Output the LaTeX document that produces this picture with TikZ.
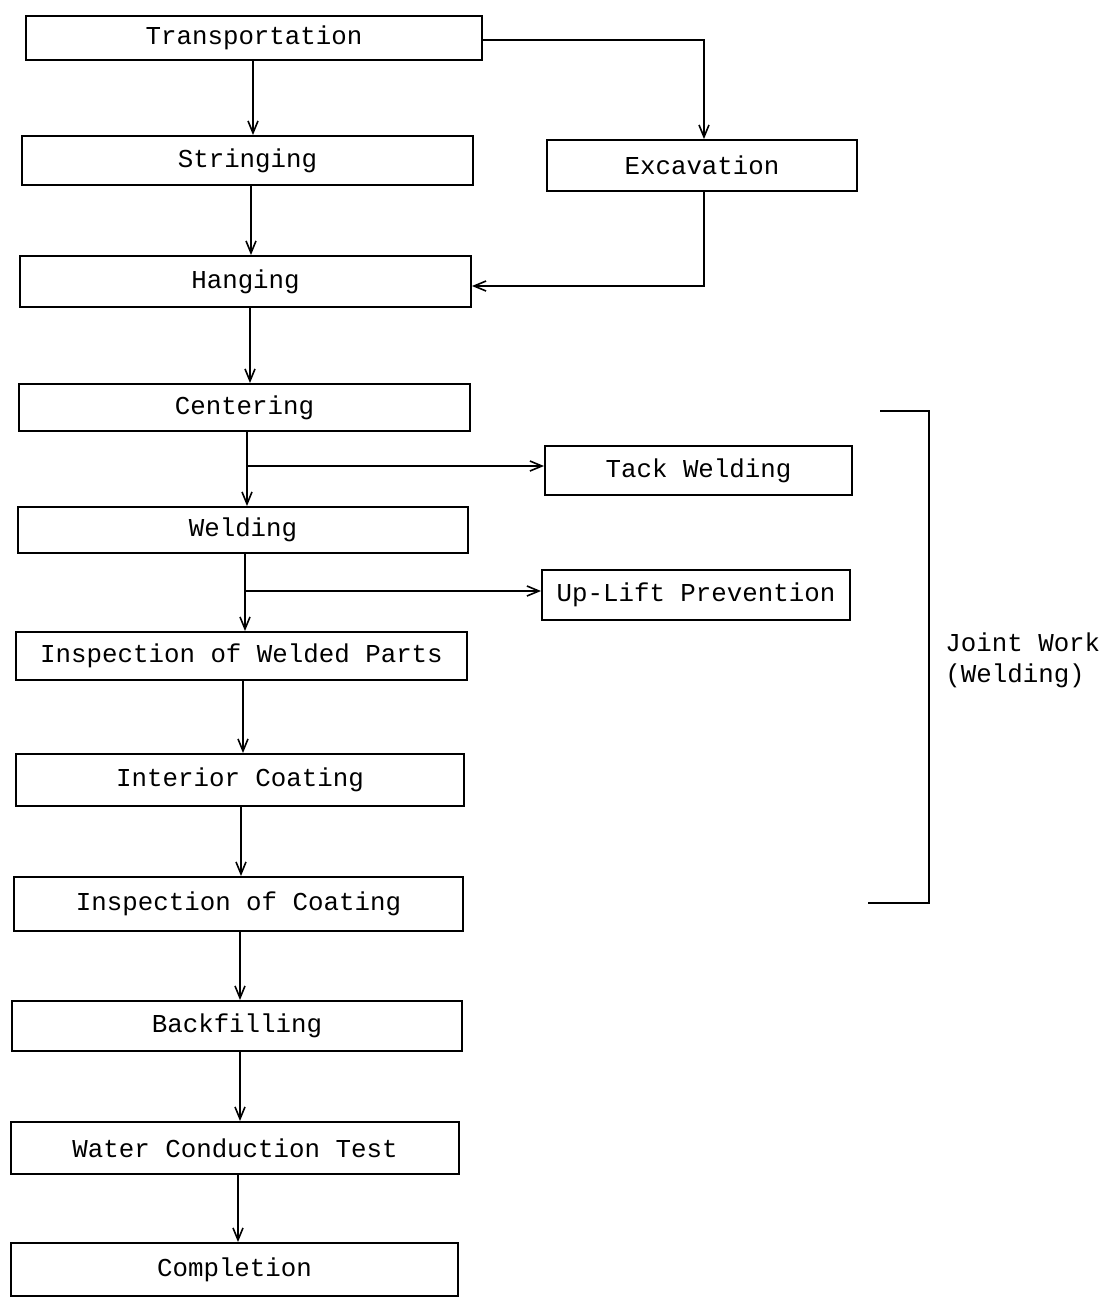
\documentclass[tikz,border=0pt]{standalone}
\usepackage{fontspec}
\setmonofont{Liberation Mono}
\usetikzlibrary{arrows.meta}
\begin{document}
\begin{tikzpicture}[x=0.5pt,y=-0.5pt,
  stepbox/.style={draw,line width=1pt,inner sep=0pt,font=\ttfamily\fontsize{12.9pt}{15pt}\selectfont},
  arr/.style={line width=1pt,-{Straight Barb[length=6pt,width=5pt,line width=0.8pt]}},
  ln/.style={line width=1pt}]
\useasboundingbox (0,0) rectangle (1109,1298);
\node[stepbox,minimum width=228pt,minimum height=22pt] (trans) at (254,38) {Transportation};
\node[stepbox,minimum width=225.5pt,minimum height=24.5pt] (str) at (247.5,160.5) {Stringing};
\node[stepbox,minimum width=155pt,minimum height=25.5pt] (exc) at (702,165.5) {Excavation};
\node[stepbox,minimum width=225.5pt,minimum height=25.5pt] (hang) at (245.5,281.5) {Hanging};
\node[stepbox,minimum width=225.5pt,minimum height=23.5pt] (cent) at (244.5,407.5) {Centering};
\node[stepbox,minimum width=153.5pt,minimum height=24.5pt] (tack) at (698.5,470.5) {Tack Welding};
\node[stepbox,minimum width=225pt,minimum height=23pt] (weld) at (243,530) {Welding};
\node[stepbox,minimum width=154pt,minimum height=25pt] (up) at (696,595) {Up-Lift Prevention};
\node[stepbox,minimum width=225.5pt,minimum height=24pt] (inspw) at (241.5,656) {Inspection of Welded Parts};
\node[stepbox,minimum width=224pt,minimum height=26pt] (int) at (240,780) {Interior Coating};
\node[stepbox,minimum width=224.5pt,minimum height=27pt] (inspc) at (238.5,904) {Inspection of Coating};
\node[stepbox,minimum width=225pt,minimum height=25pt] (back) at (237,1026) {Backfilling};
\node[stepbox,minimum width=224pt,minimum height=26pt] (water) at (235,1148) {Water Conduction Test};
\node[stepbox,minimum width=223.5pt,minimum height=26.5pt] (comp) at (234.5,1269.5) {Completion};
% main flow
\draw[arr] (trans.south -| 253,0) -- (str.north -| 253,0);
\draw[arr] (str.south -| 251,0) -- (hang.north -| 251,0);
\draw[arr] (hang.south -| 250,0) -- (cent.north -| 250,0);
\draw[arr] (cent.south -| 247,0) -- (weld.north -| 247,0);
\draw[arr] (weld.south -| 245,0) -- (inspw.north -| 245,0);
\draw[arr] (inspw.south -| 243,0) -- (int.north -| 243,0);
\draw[arr] (int.south -| 241,0) -- (inspc.north -| 241,0);
\draw[arr] (inspc.south -| 240,0) -- (back.north -| 240,0);
\draw[arr] (back.south -| 240,0) -- (water.north -| 240,0);
\draw[arr] (water.south -| 238,0) -- (comp.north -| 238,0);
% excavation branch
\coordinate (e1) at (704,40);
\coordinate (e2) at (704,286);
\draw[arr] (trans.east |- e1) -- (e1) -- (exc.north -| e1);
\draw[arr] (exc.south -| e2) -- (e2) -- (hang.east |- e2);
% side branches
\coordinate (b1) at (247,466);
\coordinate (b2) at (245,591);
\draw[arr] (b1) -- (tack.west |- b1);
\draw[arr] (b2) -- (up.west |- b2);
% bracket
\coordinate (k1) at (880,411);
\coordinate (k2) at (929,411);
\coordinate (k3) at (929,903);
\coordinate (k4) at (868,903);
\draw[ln] (k1) -- (k2) -- (k3) -- (k4);
\node[anchor=west,align=left,inner sep=0pt,font=\ttfamily\fontsize{12.9pt}{15.5pt}\selectfont] (jw) at (945,660) {Joint Work\\(Welding)};
\end{tikzpicture}
\end{document}
